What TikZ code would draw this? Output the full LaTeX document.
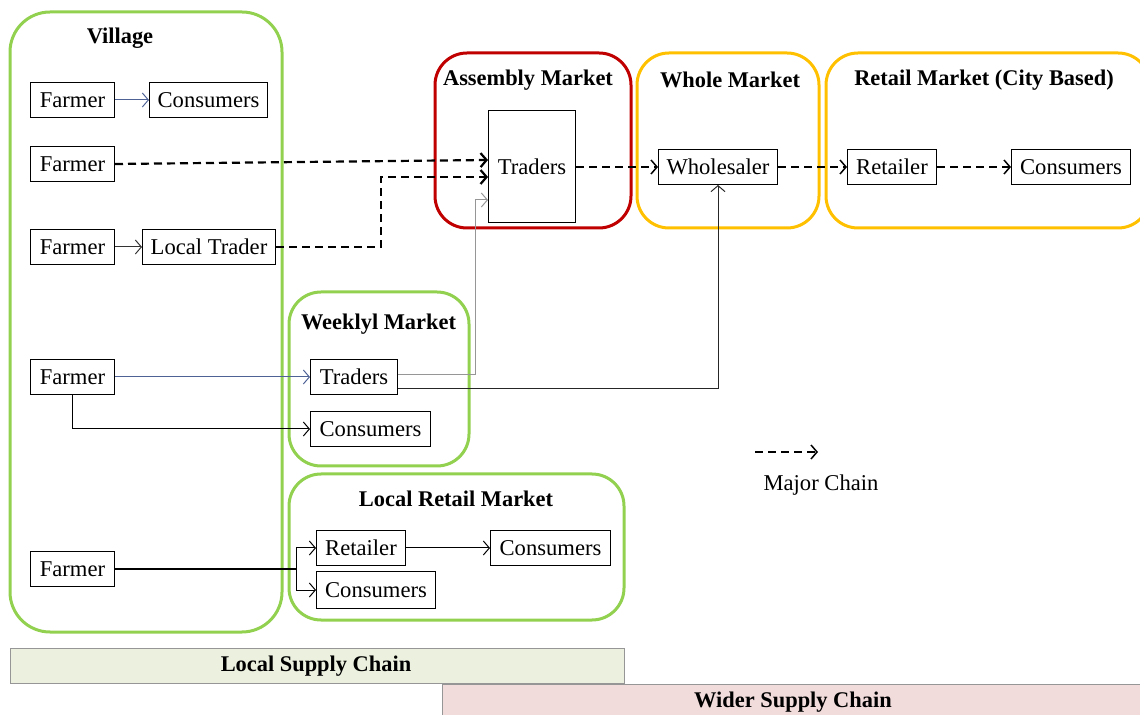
\documentclass[tikz,border=0pt]{standalone}
\usepackage{fontspec}
\setmainfont{Liberation Serif}
\usetikzlibrary{arrows.meta,positioning}
\definecolor{vg}{RGB}{146,208,80}
\definecolor{am}{RGB}{192,0,0}
\definecolor{ym}{RGB}{255,192,0}
\definecolor{ln}{RGB}{79,98,150}
\definecolor{gy}{RGB}{150,150,150}
\definecolor{lsc}{RGB}{235,241,222}
\definecolor{wsc}{RGB}{242,220,219}

\tikzset{
  actor/.style={draw,line width=0.5pt,fill=white,minimum height=17.5pt,inner xsep=3.5pt,font=\fontsize{11.3}{14}\selectfont},
  title/.style={font=\bfseries\fontsize{11.2}{14}\selectfont},
  flow/.style={-{Straight Barb[length=3pt,width=7pt]},line width=0.5pt},
  major/.style={-{Straight Barb[length=3pt,width=7pt]},dash pattern=on 4pt off 2.5pt,line width=0.75pt},
  market/.style={rounded corners=16pt,line width=1.5pt}
}

\begin{document}
\begin{tikzpicture}[x=0.5pt,y=-0.5pt]
  \useasboundingbox (0,0) rectangle (1140,715);

  % bottom bars
  \draw[gy,fill=lsc] (10,648) rectangle (624,683);
  \node[title] (lsct) at (316,666) {Local Supply Chain};
  \draw[gy,fill=wsc] (442,684) rectangle (1150,725);
  \node[title] (wsct) at (793,702) {Wider Supply Chain};

  % market areas
  \draw[market,vg,rounded corners=20pt] (10,12) rectangle (282,632);
  \draw[market,am] (435,53) rectangle (631,228);
  \draw[market,ym] (637,53) rectangle (819,228);
  \draw[market,ym] (826,53) rectangle (1150,228);
  \draw[market,vg] (289,292) rectangle (469,466);
  \draw[market,vg] (289,474) rectangle (624,620);

  \node[title] (vil) at (120,38) {Village};
  \node[title] (asm) at (528,80) {Assembly Market};
  \node[title] (whm) at (730,80) {Whole Market};
  \node[title] (rcm) at (984,80) {Retail Market (City Based)};
  \node[title,anchor=west] (wkm) at (294,324) {Weeklyl Market};
  \node[title] (lrm) at (456,499) {Local Retail Market};

  % village
  \node[actor,anchor=west,minimum width=42pt] (f1) at (30,100) {Farmer};
  \node[actor,anchor=west,minimum width=59pt] (c1) at (149,100) {Consumers};
  \node[actor,anchor=west,minimum width=42pt] (f2) at (30,164) {Farmer};
  \node[actor,anchor=west,minimum width=42pt] (f3) at (30,247) {Farmer};
  \node[actor,anchor=west,minimum width=66.5pt] (lt) at (142,247) {Local Trader};
  \node[actor,anchor=west,minimum width=42pt] (f4) at (30,377) {Farmer};
  \node[actor,anchor=west,minimum width=42pt] (f5) at (30,569) {Farmer};

  % city side
  \node[actor,minimum width=43.5pt,minimum height=56pt] (at) at (532,167) {Traders};
  \node[actor,minimum width=59.5pt] (ws) at (718,167) {Wholesaler};
  \node[actor,anchor=west,minimum width=44.5pt] (rt) at (847,167) {Retailer};
  \node[actor,anchor=west,minimum width=59.5pt] (cc) at (1011,167) {Consumers};

  % weekly market
  \node[actor,anchor=west,minimum width=43.5pt] (wt) at (310,377) {Traders};
  \node[actor,anchor=west,minimum width=60pt] (wc) at (310,429) {Consumers};

  % local retail market
  \node[actor,anchor=west,minimum width=44.5pt] (lr) at (316,548) {Retailer};
  \node[actor,anchor=west,minimum width=60pt] (lc1) at (490,548) {Consumers};
  \node[actor,anchor=west,minimum width=59.5pt,minimum height=18pt] (lc2) at (316,590) {Consumers};

  % flows
  \draw[flow,ln] (f1) -- (c1);
  \draw[major,line width=1.1pt] (f2.east) -- ([yshift=3.5pt]at.west);
  \draw[flow,black!80] (f3) -- (lt);
  \draw[major,line width=1.1pt] (lt.east) -- ++(105,0) |- ([yshift=-5pt]at.west);
  \draw[flow,ln] (f4) -- (wt);
  \draw[flow] (f4.south) |- (wc.west);
  \draw[flow,gy] ([yshift=1pt]wt.east) -- ++(77,0) |- ([yshift=-16.5pt]at.west);
  \draw[flow,black!85] ([yshift=-6pt]wt.east) -| (ws.south);

  \coordinate (sp) at (296,569);
  \draw[line width=1.1pt] (f5.east) -- (sp);
  \draw[flow] (sp) |- (lr.west);
  \draw[flow] (sp) |- (lc2.west);
  \draw[flow] (lr) -- (lc1);

  \draw[major] (at) -- (ws);
  \draw[major] (ws) -- (rt);
  \draw[major] (rt) -- (cc);

  % legend
  \coordinate (lg) at (755,452);
  \draw[major] (lg) -- ++(63,0);
  \node[font=\fontsize{11.3}{14}\selectfont] (lgt) at (821,485) {Major Chain};
\end{tikzpicture}
\end{document}
